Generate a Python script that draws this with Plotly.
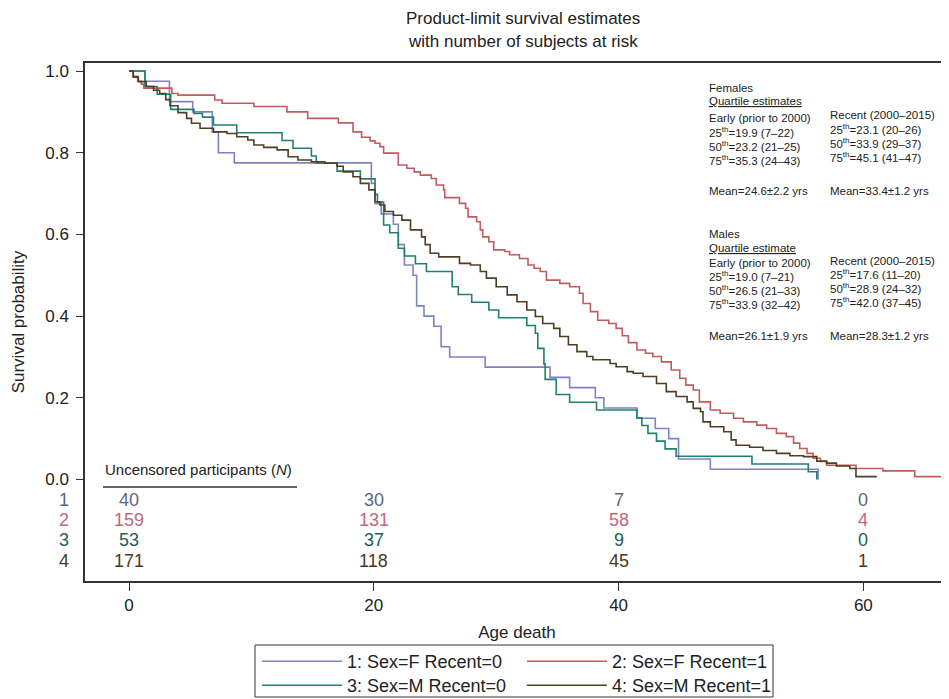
import plotly.graph_objects as go

# ---------------- data ----------------
groups = ["1: Sex=F Recent=0", "2: Sex=F Recent=1", "3: Sex=M Recent=0", "4: Sex=M Recent=1"]

f_early_x = [0, 1.3, 3.3, 5.2, 6.8, 7.3, 8.6, 19.8, 20.1, 20.6, 21.6, 22.0, 22.5, 23.2, 23.5, 24.1,
             24.9, 25.5, 26.2, 29.1, 34.4, 36.0, 38.1, 38.8, 41.5, 43.0, 44.1, 44.9, 47.5, 56.3]
f_early_y = [1.0, 0.975, 0.925, 0.90, 0.85, 0.80, 0.775, 0.725, 0.675, 0.65, 0.625, 0.575, 0.525, 0.50,
             0.425, 0.40, 0.375, 0.325, 0.30, 0.275, 0.25, 0.225, 0.20, 0.175, 0.15, 0.125, 0.10, 0.05,
             0.025, 0.0]

f_recent_x = [0, 0.3, 0.7, 1.0, 1.2, 3.5, 4.0, 7.0, 7.6, 10.2, 12.9, 14.6, 17.1, 18.3, 19.0, 19.7,
              20.1, 20.5, 20.8, 22.0, 22.7, 23.3, 23.8, 24.7, 25.1, 25.7, 25.8, 27.0, 27.5, 27.7, 28.4,
              28.7, 28.9, 29.4, 29.8, 30.7, 31.1, 31.9, 32.6, 33.1, 33.6, 34.1, 35.2, 36.0, 36.8, 37.1,
              37.7, 38.3, 39.2, 39.8, 40.3, 40.8, 41.5, 42.2, 42.8, 43.5, 44.3, 45.0, 45.5, 46.1, 46.6,
              47.5, 48.3, 49.4, 50.2, 51.3, 52.1, 52.9, 53.7, 54.3, 54.8, 55.4, 55.9, 56.5, 57.0, 59.4,
              61.6, 64.2, 66.5]
f_recent_y = [1.0, 0.987, 0.975, 0.968, 0.958, 0.945, 0.941, 0.929, 0.921, 0.913, 0.90, 0.884, 0.873,
              0.851, 0.838, 0.829, 0.823, 0.815, 0.799, 0.770, 0.762, 0.753, 0.745, 0.737, 0.721, 0.709,
              0.690, 0.676, 0.664, 0.643, 0.631, 0.611, 0.594, 0.582, 0.562, 0.558, 0.550, 0.541, 0.525,
              0.517, 0.509, 0.488, 0.480, 0.472, 0.456, 0.431, 0.411, 0.390, 0.382, 0.370, 0.352, 0.335,
              0.317, 0.309, 0.301, 0.288, 0.268, 0.248, 0.231, 0.219, 0.190, 0.170, 0.162, 0.150, 0.141,
              0.133, 0.125, 0.113, 0.105, 0.089, 0.076, 0.064, 0.052, 0.044, 0.035, 0.027, 0.021, 0.007,
              0.007]

m_early_x = [0, 1.3, 2.3, 3.4, 5.3, 6.0, 6.9, 8.8, 12.5, 13.4, 14.9, 15.3, 17.0, 18.9, 20.1, 20.3,
             20.8, 21.3, 22.0, 22.5, 23.4, 24.3, 26.4, 26.9, 28.0, 29.4, 30.2, 32.5, 33.2, 33.4, 33.9,
             34.0, 34.9, 36.0, 38.2, 41.5, 41.9, 42.4, 43.1, 43.8, 44.7, 50.9, 55.5, 56.2]
m_early_y = [1.0, 0.962, 0.943, 0.906, 0.896, 0.887, 0.868, 0.849, 0.830, 0.811, 0.792, 0.774, 0.755,
             0.736, 0.698, 0.679, 0.623, 0.604, 0.566, 0.547, 0.528, 0.509, 0.472, 0.453, 0.434, 0.415,
             0.396, 0.377, 0.358, 0.321, 0.283, 0.245, 0.208, 0.189, 0.170, 0.151, 0.132, 0.113, 0.094,
             0.075, 0.057, 0.038, 0.019, 0.0]

m_recent_x = [0, 0.35, 0.76, 1.4, 2.0, 2.5, 3.0, 3.35, 4.0, 4.7, 5.1, 5.8, 6.9, 8.0, 8.8, 9.7, 10.2,
              11.0, 12.1, 13.0, 13.8, 14.9, 16.0, 17.0, 17.5, 18.3, 18.9, 19.6, 20.1, 20.5, 20.9, 21.6,
              22.3, 23.0, 23.9, 24.2, 24.6, 25.3, 27.0, 27.9, 28.7, 29.2, 30.0, 30.9, 31.7, 32.5, 33.2,
              33.8, 34.7, 35.2, 35.9, 36.6, 37.4, 37.9, 39.3, 39.8, 40.7, 41.2, 42.0, 43.1, 43.9, 44.7,
              45.6, 46.1, 46.7, 46.9, 47.5, 48.6, 49.2, 49.6, 50.7, 51.8, 52.9, 54.0, 55.1, 56.2, 57.0,
              57.8, 58.9, 59.4, 61.1]
m_recent_y = [1.0, 0.985, 0.974, 0.962, 0.953, 0.945, 0.930, 0.915, 0.898, 0.884, 0.872, 0.860, 0.851,
              0.847, 0.839, 0.831, 0.819, 0.813, 0.807, 0.790, 0.782, 0.778, 0.774, 0.767, 0.753, 0.741,
              0.725, 0.709, 0.680, 0.672, 0.656, 0.647, 0.635, 0.611, 0.594, 0.575, 0.554, 0.545, 0.529,
              0.525, 0.509, 0.493, 0.472, 0.452, 0.435, 0.415, 0.399, 0.382, 0.370, 0.350, 0.330, 0.313,
              0.301, 0.293, 0.284, 0.276, 0.264, 0.260, 0.252, 0.235, 0.215, 0.203, 0.190, 0.174, 0.166,
              0.141, 0.129, 0.117, 0.097, 0.084, 0.079, 0.071, 0.064, 0.058, 0.056, 0.045, 0.040, 0.033,
              0.027, 0.007, 0.007]

risk_times = [0, 20, 40, 60]
risk_labels = ["1", "2", "3", "4"]
risk_1 = [40, 30, 7, 0]
risk_2 = [159, 131, 58, 4]
risk_3 = [53, 37, 9, 0]
risk_4 = [171, 118, 45, 1]

y_ticks = [0.0, 0.2, 0.4, 0.6, 0.8, 1.0]
x_ticks = [0, 20, 40, 60]

title_lines = ["Product-limit survival estimates", "with number of subjects at risk"]

females_text = {
    "early": ["Early (prior to 2000)", "25<sup>th</sup>=19.9 (7–22)", "50<sup>th</sup>=23.2 (21–25)",
              "75<sup>th</sup>=35.3 (24–43)", "Mean=24.6±2.2 yrs"],
    "recent": ["Recent (2000–2015)", "25<sup>th</sup>=23.1 (20–26)", "50<sup>th</sup>=33.9 (29–37)",
               "75<sup>th</sup>=45.1 (41–47)", "Mean=33.4±1.2 yrs"],
}
males_text = {
    "early": ["Early (prior to 2000)", "25<sup>th</sup>=19.0 (7–21)", "50<sup>th</sup>=26.5 (21–33)",
              "75<sup>th</sup>=33.9 (32–42)", "Mean=26.1±1.9 yrs"],
    "recent": ["Recent (2000–2015)", "25<sup>th</sup>=17.6 (11–20)", "50<sup>th</sup>=28.9 (24–32)",
               "75<sup>th</sup>=42.0 (37–45)", "Mean=28.3±1.2 yrs"],
}

# ---------------- styles ----------------
line_colors = ["#7d82c2", "#c25b5e", "#21806e", "#4e3f22"]
text_colors = ["#5c6680", "#c4677a", "#1c5f55", "#4a3a22"]
FONT = "Liberation Sans, Arial, Helvetica, sans-serif"
INK = "#222222"

# the page body has an 8px margin; page coordinates below are converted to figure space
OFF = 8
W, H = 949 - OFF, 699 - OFF
PL, PR, PT, PB = 85, 949, 63, 581  # plot area in page pixels


def px(xp):
    return (xp - PL) / (PR - PL)


def py(yp):
    return (PB - yp) / (PB - PT)


fig = go.Figure()
series = [(f_early_x, f_early_y), (f_recent_x, f_recent_y), (m_early_x, m_early_y), (m_recent_x, m_recent_y)]
legend_ids = ["legend", "legend", "legend2", "legend2"]
for i, (xs, ys) in enumerate(series):
    fig.add_trace(go.Scatter(x=xs, y=ys, mode="lines", name=groups[i], legend=legend_ids[i],
                             line=dict(color=line_colors[i], width=1.6, shape="hv")))

ann = []
for txt, yp in zip(title_lines, [19, 42]):
    ann.append(dict(x=px(523), y=py(yp), xref="paper", yref="paper", text=txt, showarrow=False,
                    xanchor="center", yanchor="middle", font=dict(family=FONT, size=17, color=INK)))

# risk table
risk_rows = [risk_1, risk_2, risk_3, risk_4]
row_px = [500, 520, 540, 561]
for r, vals in enumerate(risk_rows):
    for t, v in zip(risk_times, vals):
        ann.append(dict(x=t, y=py(row_px[r]), xref="x", yref="paper", text=str(v), showarrow=False,
                        xanchor="center", yanchor="middle",
                        font=dict(family=FONT, size=18, color=text_colors[r])))
    ann.append(dict(x=px(71), y=py(row_px[r]), xref="paper", yref="paper", text=risk_labels[r],
                    showarrow=False, xanchor="right", yanchor="middle",
                    font=dict(family=FONT, size=18, color=text_colors[r])))
ann.append(dict(x=px(103), y=py(469), xref="paper", yref="paper",
                text="Uncensored participants (<i>N</i>)", showarrow=False, xanchor="left", yanchor="middle",
                font=dict(family=FONT, size=15, color=INK)))


def block(x_left, x_right, head_y, sub_y, early_y, recent_y, mean_y, head, sub, data):
    out = []
    f = dict(family=FONT, size=11.5, color=INK)
    out.append(dict(x=px(x_left), y=py(head_y), xref="paper", yref="paper", text=head, showarrow=False,
                    xanchor="left", yanchor="middle", font=f))
    out.append(dict(x=px(x_left), y=py(sub_y), xref="paper", yref="paper", text="<u>" + sub + "</u>",
                    showarrow=False, xanchor="left", yanchor="middle", font=f))
    for k in range(4):
        out.append(dict(x=px(x_left), y=py(early_y[k]), xref="paper", yref="paper", text=data["early"][k],
                        showarrow=False, xanchor="left", yanchor="middle", font=f))
        out.append(dict(x=px(x_right), y=py(recent_y[k]), xref="paper", yref="paper", text=data["recent"][k],
                        showarrow=False, xanchor="left", yanchor="middle", font=f))
    out.append(dict(x=px(x_left), y=py(mean_y), xref="paper", yref="paper", text=data["early"][4],
                    showarrow=False, xanchor="left", yanchor="middle", font=f))
    out.append(dict(x=px(x_right), y=py(mean_y), xref="paper", yref="paper", text=data["recent"][4],
                    showarrow=False, xanchor="left", yanchor="middle", font=f))
    return out


ann += block(707, 828, 88, 101, [118, 132, 146, 160], [115, 129, 143, 157], 191,
             "Females", "Quartile estimates", females_text)
ann += block(707, 828, 234, 248, [263, 276, 290, 304], [261, 274, 288, 302], 336,
             "Males", "Quartile estimate", males_text)

shapes = [
    dict(type="line", xref="paper", yref="paper", x0=px(103), x1=px(297), y0=py(487), y1=py(487),
         line=dict(color="#333333", width=1.5)),
    # legend frame
    dict(type="rect", xref="paper", yref="paper", x0=px(255), x1=px(773), y0=py(645), y1=py(697),
         line=dict(color="#333333", width=1), fillcolor="rgba(0,0,0,0)"),
]

leg_common = dict(orientation="h", xanchor="left", yanchor="top", borderwidth=0,
                  bgcolor="rgba(0,0,0,0)", itemwidth=80, entrywidth=170, entrywidthmode="pixels",
                  tracegroupgap=0, font=dict(family=FONT, size=18, color=INK))

fig.update_layout(
    width=W, height=H,
    margin=dict(l=PL - OFF, r=W - (PR - OFF), t=PT - OFF, b=H - (PB - OFF), autoexpand=False),
    paper_bgcolor="white", plot_bgcolor="white",
    font=dict(family=FONT, size=16, color=INK),
    xaxis=dict(range=[-3.6, 67.0], tickvals=x_ticks, ticktext=[str(v) for v in x_ticks],
               showgrid=False, zeroline=False, showline=True, linecolor="#333333", linewidth=1.5,
               mirror=True, ticks="outside", ticklen=8, tickcolor="#333333", automargin=False,
               tickfont=dict(family=FONT, size=17, color=INK),
               title=dict(text="Age death", font=dict(family=FONT, size=17, color=INK), standoff=12)),
    yaxis=dict(range=[-0.2485, 1.0196], tickvals=y_ticks, ticktext=["%.1f" % v for v in y_ticks],
               showgrid=False, zeroline=False, showline=True, linecolor="#333333", linewidth=1.5,
               ticks="outside", ticklen=7, tickcolor="#333333", automargin=False, ticklabelstandoff=4,
               tickfont=dict(family=FONT, size=17, color=INK),
               title=dict(text="Survival probability", font=dict(family=FONT, size=17, color=INK),
                          standoff=16)),
    legend=dict(x=px(257), y=py(643), **leg_common),
    legend2=dict(x=px(257), y=py(667), **leg_common),
    annotations=ann,
    shapes=shapes,
)

fig.write_html("out.html")
